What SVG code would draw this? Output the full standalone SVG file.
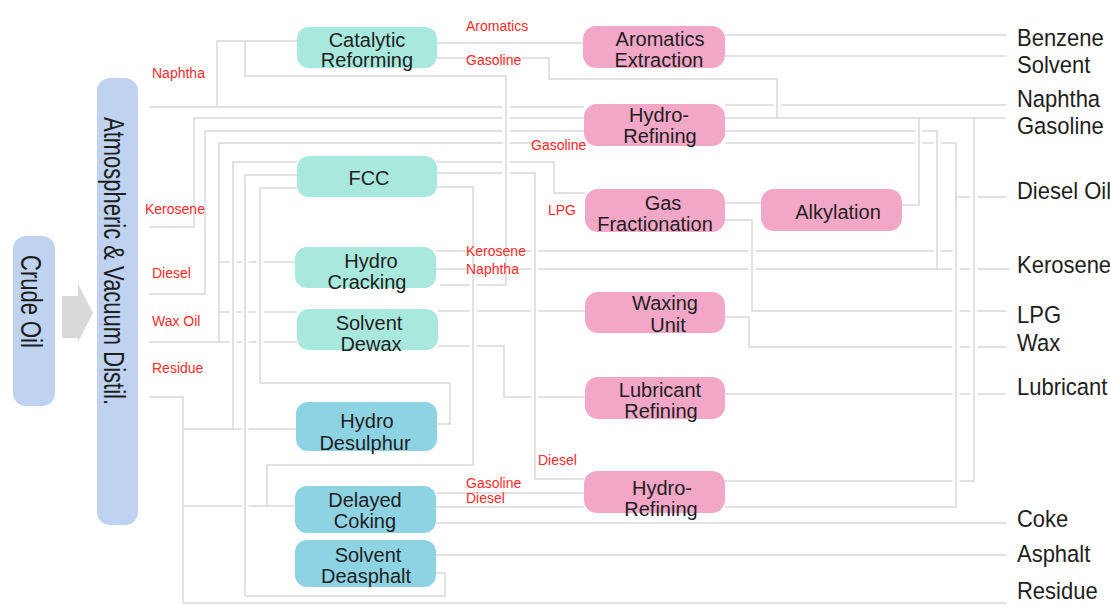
<svg xmlns="http://www.w3.org/2000/svg" width="1110" height="605" viewBox="0 0 1110 605">
<style>
.ln{fill:none;stroke:#d9d9d9;stroke-width:1.5}
.halo{fill:none;stroke:#ffffff;stroke-width:7}
.adu{fill:#bfd3f1}
.teal{fill:#a9e9dd}
.blue{fill:#8dd3e3}
.pink{fill:#f3a7c7}
text{font-family:"Liberation Sans",Arial,sans-serif}
.t{font-size:20px;fill:#1e1e1e;text-anchor:middle}
.r{font-size:14px;fill:#ff2b2b}
.o{font-size:22px;fill:#1e1e1e}
.v{font-size:22px;fill:#1e1e1e}
</style>
<rect width="1110" height="605" fill="#ffffff"/>
<g id="connectors">
<path class="ln" d="M149,107 H584 M217,107 V41 H297"/>
<path class="ln" d="M440,285 H506 V76 H245 V41"/>
<path class="ln" d="M149,227 H194 V118 H584"/>
<path class="ln" d="M149,294 H205 V131 H584"/>
<path class="ln" d="M149,342 H297 M219,342 V143 H584 M219,262 H295 M219,312 H297"/>
<path class="ln" d="M149,397 H183 V603 H1006 M183,429 H296 M183,506 H295"/>
<path class="ln" d="M233,429 V162 H297 M245,596 V175 H297 M260,383 V188 H297"/>
<path class="ln" d="M437,424 H450 V383 H260"/>
<path class="ln" d="M436,573 H445 V596 H245"/>
<path class="ln" d="M437,162 H554 V193 H585 M437,173 H535 V479 H584 M437,187 H473 V465 H267 V506"/>
<path class="ln" d="M437,43 H583 M437,58 H549 V79 H777 V118"/>
<path class="ln" d="M725,35 H1006 M725,56 H1006"/>
<path class="ln" d="M725,105 H1006 M725,118 H1006 M725,131 H937 V269 M725,143 H956 V507 H725 M956,197 H1006"/>
<path class="ln" d="M436,251 H953 M436,269 H1009"/>
<path class="ln" d="M725,203 H761 M725,220 H752 V311 H1006"/>
<path class="ln" d="M902,205 H919 V118"/>
<path class="ln" d="M438,311 H585 M438,346 H504 V397 H585"/>
<path class="ln" d="M725,317 H749 V347 H1006"/>
<path class="ln" d="M725,394 H1006"/>
<path class="ln" d="M725,481 H974 V118"/>
<path class="ln" d="M436,493 H584 M436,507 H584 M436,523 H1006"/>
<path class="ln" d="M436,555 H1006"/>
<g id="bridges">
<path class="halo" d="M233,167 V424 M245,180 V591 M260,193 V378 M473,192 V460 M535,178 V474 M506,81 V280 M777,84 V113 M919,123 V200 M937,136 V264 M956,148 V192 M956,202 V502 M974,123 V476 M752,225 V306"/>
<path class="ln" d="M233,166 V425 M245,179 V592 M260,192 V379 M473,191 V461 M535,177 V475 M506,80 V281 M777,83 V114 M919,122 V201 M937,135 V265 M956,147 V503 M974,122 V477 M752,224 V307"/>
</g>
</g>
<g id="arrow"><polygon points="62,296 78,296 78,284 93,313 78,342 78,338 62,338" fill="#d9d9d9"/></g>
<g id="crude-oil"><rect class="adu" x="13" y="236" width="42" height="170" rx="13"/><text class="v" transform="translate(21,255) rotate(90) scale(1,1.35)">Crude Oil</text></g>
<g id="distillation"><rect class="adu" x="97" y="78" width="41" height="447" rx="13"/><text class="v" transform="translate(104,117) rotate(90) scale(1,1.35)">Atmospheric &amp; Vacuum Distil.</text></g>
<g id="catalytic-reforming"><rect class="teal" x="297" y="27" width="140" height="41" rx="12"/><text class="t" x="367" y="47">Catalytic</text><text class="t" x="367" y="67">Reforming</text></g>
<g id="fcc"><rect class="teal" x="297" y="156" width="140" height="41" rx="12"/><text class="t" x="369" y="185">FCC</text></g>
<g id="hydro-cracking"><rect class="teal" x="295" y="247" width="141" height="41" rx="12"/><text class="t" x="371" y="268">Hydro</text><text class="t" x="367" y="289">Cracking</text></g>
<g id="solvent-dewax"><rect class="teal" x="297" y="309" width="141" height="41" rx="12"/><text class="t" x="369" y="330">Solvent</text><text class="t" x="371" y="351">Dewax</text></g>
<g id="hydro-desulphur"><rect class="blue" x="296" y="402" width="141" height="49" rx="12"/><text class="t" x="367" y="428">Hydro</text><text class="t" x="365" y="450">Desulphur</text></g>
<g id="delayed-coking"><rect class="blue" x="295" y="486" width="141" height="47" rx="12"/><text class="t" x="365" y="507">Delayed</text><text class="t" x="365" y="528">Coking</text></g>
<g id="solvent-deasphalt"><rect class="blue" x="295" y="540" width="141" height="47" rx="12"/><text class="t" x="368" y="562">Solvent</text><text class="t" x="366" y="583">Deasphalt</text></g>
<g id="aromatics-extraction"><rect class="pink" x="583" y="26" width="142" height="42" rx="13"/><text class="t" x="660" y="46">Aromatics</text><text class="t" x="659" y="67">Extraction</text></g>
<g id="hydro-refining-1"><rect class="pink" x="584" y="104" width="141" height="42" rx="13"/><text class="t" x="659" y="122">Hydro-</text><text class="t" x="660" y="143">Refining</text></g>
<g id="gas-fractionation"><rect class="pink" x="585" y="189" width="140" height="43" rx="13"/><text class="t" x="663" y="210">Gas</text><text class="t" x="655" y="231">Fractionation</text></g>
<g id="alkylation"><rect class="pink" x="761" y="189" width="141" height="42" rx="13"/><text class="t" x="838" y="219">Alkylation</text></g>
<g id="waxing-unit"><rect class="pink" x="585" y="292" width="140" height="41" rx="13"/><text class="t" x="665" y="310">Waxing</text><text class="t" x="668" y="332">Unit</text></g>
<g id="lubricant-refining"><rect class="pink" x="585" y="377" width="140" height="42" rx="13"/><text class="t" x="660" y="397">Lubricant</text><text class="t" x="661" y="418">Refining</text></g>
<g id="hydro-refining-2"><rect class="pink" x="584" y="471" width="141" height="42" rx="13"/><text class="t" x="662" y="495">Hydro-</text><text class="t" x="661" y="516">Refining</text></g>
<g id="stream-labels">
<text class="r" x="152" y="78">Naphtha</text>
<text class="r" x="145" y="214">Kerosene</text>
<text class="r" x="152" y="278">Diesel</text>
<text class="r" x="152" y="326">Wax Oil</text>
<text class="r" x="152" y="373">Residue</text>
<text class="r" x="466" y="31">Aromatics</text>
<text class="r" x="466" y="65">Gasoline</text>
<text class="r" x="531" y="150">Gasoline</text>
<text class="r" x="548" y="215">LPG</text>
<text class="r" x="466" y="256">Kerosene</text>
<text class="r" x="466" y="274">Naphtha</text>
<text class="r" x="538" y="465">Diesel</text>
<text class="r" x="466" y="488">Gasoline</text>
<text class="r" x="466" y="503">Diesel</text>
</g>
<g id="products">
<text class="o" transform="translate(1017,46) scale(1,1.08)">Benzene</text>
<text class="o" transform="translate(1017,73) scale(1,1.08)">Solvent</text>
<text class="o" transform="translate(1017,107) scale(1,1.08)">Naphtha</text>
<text class="o" transform="translate(1017,134) scale(1,1.08)">Gasoline</text>
<text class="o" transform="translate(1017,199) scale(1,1.08)">Diesel Oil</text>
<text class="o" transform="translate(1017,273) scale(1,1.08)">Kerosene</text>
<text class="o" transform="translate(1017,323) scale(1,1.08)">LPG</text>
<text class="o" transform="translate(1017,351) scale(1,1.08)">Wax</text>
<text class="o" transform="translate(1017,395) scale(1,1.08)">Lubricant</text>
<text class="o" transform="translate(1017,527) scale(1,1.08)">Coke</text>
<text class="o" transform="translate(1017,562) scale(1,1.08)">Asphalt</text>
<text class="o" transform="translate(1017,599) scale(1,1.08)">Residue</text>
</g>
</svg>
